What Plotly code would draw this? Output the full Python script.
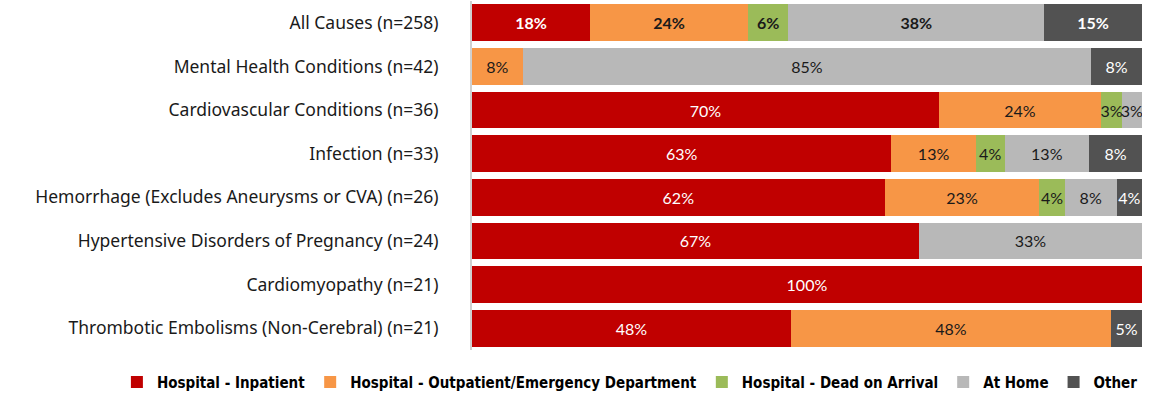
import plotly.graph_objects as go

categories = [
    "All Causes (n=258)",
    "Mental Health Conditions (n=42)",
    "Cardiovascular Conditions (n=36)",
    "Infection (n=33)",
    "Hemorrhage (Excludes Aneurysms or CVA) (n=26)",
    "Hypertensive Disorders of Pregnancy (n=24)",
    "Cardiomyopathy (n=21)",
    "Thrombotic Embolisms (Non-Cerebral) (n=21)",
]

series_names = [
    "Hospital - Inpatient",
    "Hospital - Outpatient/Emergency Department",
    "Hospital - Dead on Arrival",
    "At Home",
    "Other",
]

inpatient = [17.6, 0, 69.7, 62.6, 61.6, 66.7, 100, 47.6]
outpatient = [23.6, 7.6, 24.2, 12.6, 23.1, 0, 0, 47.8]
doa = [6.0, 0, 3.1, 4.3, 3.8, 0, 0, 0]
at_home = [38.2, 84.8, 3.0, 12.6, 7.7, 33.3, 0, 0]
other = [14.6, 7.6, 0, 7.9, 3.8, 0, 0, 4.6]

values = [inpatient, outpatient, doa, at_home, other]
colors = ["#C00000", "#F79646", "#9BBB59", "#B8B8B8", "#525252"]
text_colors = ["#FFFFFF", "#1A1A1A", "#1A1A1A", "#1A1A1A", "#FFFFFF"]

fig = go.Figure()
for name, vals, col, tcol in zip(series_names, values, colors, text_colors):
    texts = []
    for i, v in enumerate(vals):
        if v <= 0:
            texts.append("")
        elif i == 0:
            texts.append(f"<b>{round(v)}%</b>")
        else:
            texts.append(f"{round(v)}%")
    fig.add_trace(go.Bar(
        y=categories,
        x=vals,
        name=name,
        orientation="h",
        marker=dict(color=col, line=dict(width=0)),
        text=texts,
        textposition="inside",
        insidetextanchor="middle",
        textangle=0,
        constraintext="none",
        textfont=dict(color=tcol, size=16, family="Lato"),
        hoverinfo="skip",
    ))

fig.update_layout(
    barmode="stack",
    width=1153,
    height=400,
    margin=dict(l=472, r=11, t=1, b=43),
    plot_bgcolor="white",
    paper_bgcolor="white",
    bargap=0.16,
    font=dict(family="Noto Sans", size=15, color="#1A1A1A"),
    legend=dict(
        orientation="h",
        x=-0.53,
        xanchor="left",
        y=-0.045,
        yanchor="top",
        font=dict(family="DejaVu Sans Condensed", size=15, color="#000000", weight="bold"),
        itemwidth=30,
        traceorder="normal",
    ),
)
fig.update_xaxes(range=[0, 100], visible=False, fixedrange=True)
fig.update_yaxes(
    autorange="reversed",
    showline=True,
    linecolor="#D0D0D0",
    linewidth=2,
    ticks="",
    ticklabelstandoff=28,
    tickfont=dict(family="Noto Sans", size=17.5, color="#1A1A1A"),
    showgrid=False,
    fixedrange=True,
)

fig.write_html("out.html", config={"displayModeBar": False},
               post_script="document.body.style.margin='0';")
